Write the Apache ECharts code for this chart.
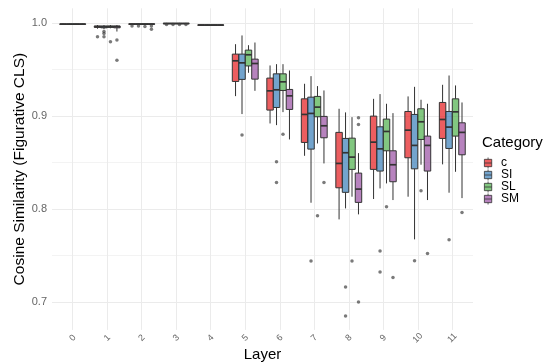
<!DOCTYPE html>
<html>
<head>
<meta charset="utf-8">
<script src="https://cdn.jsdelivr.net/npm/echarts@6/dist/echarts.min.js"></script>
<style>
  html, body { margin: 0; padding: 0; background: #fff; }
  #chart { width: 548px; height: 363px; }
</style>
</head>
<body>
<div id="chart"></div>
<script>
// categories and layers
const layers = [0, 1, 2, 3, 4, 5, 6, 7, 8, 9, 10, 11]
const categories = ['c', 'SI', 'SL', 'SM']
const yTicks = [0.7, 0.8, 0.9, 1.0]

// box stats per layer: [min, q1, median, q3, max]
const cStats = [
  [0.9985, 0.9988, 0.999, 0.9992, 0.9995],
  [0.994, 0.9955, 0.9962, 0.997, 0.998],
  [0.9985, 0.9988, 0.999, 0.9993, 0.9996],
  [0.9993, 0.9995, 0.9997, 0.9998, 0.9999],
  [0.9975, 0.9978, 0.998, 0.9982, 0.9985],
  [0.9215, 0.9373, 0.9595, 0.9667, 0.9774],
  [0.8921, 0.9065, 0.9272, 0.9409, 0.9545],
  [0.8573, 0.8717, 0.9018, 0.9186, 0.9348],
  [0.7889, 0.8229, 0.8491, 0.8825, 0.9079],
  [0.8108, 0.8427, 0.872, 0.9, 0.9186],
  [0.8133, 0.8552, 0.8849, 0.905, 0.9212],
  [0.8481, 0.876, 0.8964, 0.9147, 0.9337]
]
const siStats = [
  [0.9985, 0.9988, 0.999, 0.9992, 0.9995],
  [0.9935, 0.995, 0.996, 0.997, 0.998],
  [0.9985, 0.9988, 0.999, 0.9993, 0.9996],
  [0.9993, 0.9995, 0.9997, 0.9998, 0.9999],
  [0.9975, 0.9978, 0.998, 0.9982, 0.9985],
  [0.9022, 0.9395, 0.9573, 0.9667, 0.9868],
  [0.8903, 0.9093, 0.9283, 0.9455, 0.9559],
  [0.8068, 0.8645, 0.9029, 0.9204, 0.943],
  [0.8007, 0.818, 0.8606, 0.876, 0.904],
  [0.8222, 0.8409, 0.8648, 0.8885, 0.9237],
  [0.7674, 0.8433, 0.8685, 0.9018, 0.9315],
  [0.8176, 0.8652, 0.8882, 0.905, 0.9437]
]
const slStats = [
  [0.9985, 0.9988, 0.999, 0.9992, 0.9995],
  [0.9945, 0.9955, 0.9962, 0.997, 0.998],
  [0.9985, 0.9988, 0.999, 0.9993, 0.9996],
  [0.9993, 0.9995, 0.9997, 0.9998, 0.9999],
  [0.9975, 0.9978, 0.998, 0.9982, 0.9985],
  [0.9466, 0.954, 0.966, 0.971, 0.9763],
  [0.9043, 0.9276, 0.9369, 0.9455, 0.9559],
  [0.8706, 0.8993, 0.9097, 0.9212, 0.9323],
  [0.8133, 0.8427, 0.8559, 0.8763, 0.8989],
  [0.8276, 0.8627, 0.8835, 0.8968, 0.9133],
  [0.8477, 0.8749, 0.8939, 0.9079, 0.9176],
  [0.8401, 0.8785, 0.9046, 0.9186, 0.933]
]
const smStats = [
  [0.9985, 0.9988, 0.999, 0.9992, 0.9995],
  [0.991, 0.995, 0.9962, 0.997, 0.998],
  [0.9985, 0.9988, 0.999, 0.9993, 0.9996],
  [0.9993, 0.9995, 0.9997, 0.9998, 0.9999],
  [0.9975, 0.9978, 0.998, 0.9982, 0.9985],
  [0.9272, 0.9398, 0.9566, 0.9613, 0.9792],
  [0.8749, 0.9072, 0.9218, 0.9287, 0.9491],
  [0.8491, 0.8767, 0.8896, 0.8997, 0.9276],
  [0.7943, 0.8072, 0.8215, 0.8387, 0.8602],
  [0.8097, 0.8294, 0.8477, 0.8627, 0.9032],
  [0.8097, 0.8409, 0.8685, 0.8785, 0.9133],
  [0.8118, 0.8584, 0.8825, 0.8928, 0.9147]
]

// outliers: [layer, value]
const cOut = [[1, 0.9853], [2, 0.997], [3, 0.9985]]
const siOut = [[1, 0.991], [1, 0.989], [1, 0.9853], [2, 0.997], [3, 0.9985], [5, 0.8796], [6, 0.8509], [6, 0.8287],
  [7, 0.744], [8, 0.7161], [8, 0.6849], [9, 0.7548], [9, 0.7323], [10, 0.7444], [11, 0.767]]
const slOut = [[1, 0.98], [2, 0.9965], [3, 0.9985], [6, 0.8806], [7, 0.7928], [8, 0.744], [9, 0.8025], [10, 0.8197]]
const smOut = [[1, 0.982], [1, 0.96], [2, 0.997], [2, 0.9935], [3, 0.9985], [7, 0.8287], [8, 0.8982], [8, 0.891],
  [8, 0.7], [9, 0.7265], [10, 0.7523], [11, 0.7964]]

const allStats = [cStats, siStats, slStats, smStats]
const allOut = [cOut, siOut, slOut, smOut]
const fills = ['rgba(228,26,28,0.7)', 'rgba(55,126,184,0.7)', 'rgba(77,175,74,0.7)', 'rgba(152,78,163,0.7)']
const lineCol = '#333333'
const boxW = 0.1875
const offsets = [-0.28125, -0.09375, 0.09375, 0.28125]
const font = 'Liberation Sans, Arial, Helvetica, sans-serif'

const chart = echarts.init(document.getElementById('chart'), null, { renderer: 'canvas' })

function boxRenderer(k) {
  return function (params, api) {
    const x = api.value(0) + offsets[k]
    const half = api.size([boxW, 0])[0] / 2
    const pMin = api.coord([x, api.value(1)])
    const pQ1 = api.coord([x, api.value(2)])
    const pMed = api.coord([x, api.value(3)])
    const pQ3 = api.coord([x, api.value(4)])
    const pMax = api.coord([x, api.value(5)])
    return {
      type: 'group',
      children: [
        { type: 'line', shape: { x1: pMin[0], y1: pMin[1], x2: pQ1[0], y2: pQ1[1] }, style: { stroke: lineCol, lineWidth: 1 } },
        { type: 'line', shape: { x1: pQ3[0], y1: pQ3[1], x2: pMax[0], y2: pMax[1] }, style: { stroke: lineCol, lineWidth: 1 } },
        {
          type: 'rect',
          shape: { x: pQ3[0] - half, y: pQ3[1], width: half * 2, height: Math.max(pQ1[1] - pQ3[1], 0.5) },
          style: { fill: fills[k], stroke: lineCol, lineWidth: 1 }
        },
        { type: 'line', shape: { x1: pMed[0] - half, y1: pMed[1], x2: pMed[0] + half, y2: pMed[1] }, style: { stroke: lineCol, lineWidth: 1.7 } }
      ]
    }
  }
}

const series = []
categories.forEach((name, k) => {
  series.push({
    name: name,
    type: 'custom',
    renderItem: boxRenderer(k),
    encode: { x: 0, y: [1, 2, 3, 4, 5] },
    itemStyle: { color: fills[k] },
    silent: true,
    data: layers.map((l, i) => [l].concat(allStats[k][i]))
  })
})
categories.forEach((name, k) => {
  series.push({
    name: name,
    type: 'scatter',
    symbolSize: 3.5,
    silent: true,
    itemStyle: { color: 'rgba(60,60,60,0.85)' },
    data: allOut[k].map(d => [d[0] + offsets[k], d[1]])
  })
})

const keyIcon = 'path://M4,0V2 M0,2H8V10H0Z M0,6H8 M4,10V12'

const xColors = ['rgba(0,0,0,0)', 'rgba(0,0,0,0)', 'rgba(0,0,0,0)', '#EBEBEB', 'rgba(0,0,0,0)']
const yColors = ['rgba(0,0,0,0)', 'rgba(0,0,0,0)', 'rgba(0,0,0,0)', '#EBEBEB', 'rgba(0,0,0,0)',
  'rgba(0,0,0,0)', 'rgba(0,0,0,0)', 'rgba(0,0,0,0)', '#F3F3F3', 'rgba(0,0,0,0)']

const option = {
  animation: false,
  backgroundColor: '#fff',
  textStyle: { fontFamily: font },
  title: {
    text: 'Category',
    left: 482,
    top: 135,
    padding: 0,
    textStyle: { fontSize: 15, fontWeight: 'normal', color: '#000', fontFamily: font }
  },
  legend: {
    orient: 'vertical',
    left: 484,
    top: 157,
    padding: 0,
    itemWidth: 8,
    itemHeight: 11,
    itemGap: 0,
    selectedMode: false,
    textStyle: { fontSize: 12, color: '#000', lineHeight: 12, padding: [0, 0, 0, 4], fontFamily: font },
    data: categories.map((c, k) => ({
      name: c,
      icon: keyIcon,
      itemStyle: { color: fills[k], borderColor: lineCol, borderWidth: 0.8 }
    }))
  },
  grid: { left: 52, right: 75, top: 8.3, bottom: 33.1, containLabel: false, outerBoundsMode: 'none' },
  xAxis: {
    type: 'value',
    min: -0.6,
    max: 11.6,
    interval: 0.2,
    name: 'Layer',
    nameLocation: 'middle',
    nameGap: 17,
    nameMoveOverlap: false,
    nameTextStyle: { fontSize: 15, color: '#000', fontFamily: font },
    axisLine: { show: false },
    axisTick: { show: false },
    axisLabel: {
      rotate: 45,
      align: 'center',
      verticalAlign: 'middle',
      margin: 8,
      fontSize: 9,
      color: '#666',
      formatter: v => (Math.abs(v - Math.round(v)) < 1e-6 && layers.indexOf(Math.round(v)) >= 0) ? String(Math.round(v)) : ''
    },
    splitLine: { show: true, lineStyle: { color: xColors, width: 1 } }
  },
  yAxis: {
    type: 'value',
    min: 0.67,
    max: 1.016,
    interval: 0.01,
    name: 'Cosine Similarity (Figurative CLS)',
    nameLocation: 'middle',
    nameGap: 24,
    nameMoveOverlap: false,
    nameTextStyle: { fontSize: 15.5, color: '#000', fontFamily: font },
    axisLine: { show: false },
    axisTick: { show: false },
    axisLabel: {
      margin: 5,
      fontSize: 11,
      color: '#666',
      formatter: v => {
        const hit = yTicks.find(t => Math.abs(t - v) < 1e-6)
        return hit !== undefined ? hit.toFixed(1) : ''
      }
    },
    splitLine: { show: true, lineStyle: { color: yColors, width: 1 } }
  },
  series: series
}

chart.setOption(option)
</script>
</body>
</html>
